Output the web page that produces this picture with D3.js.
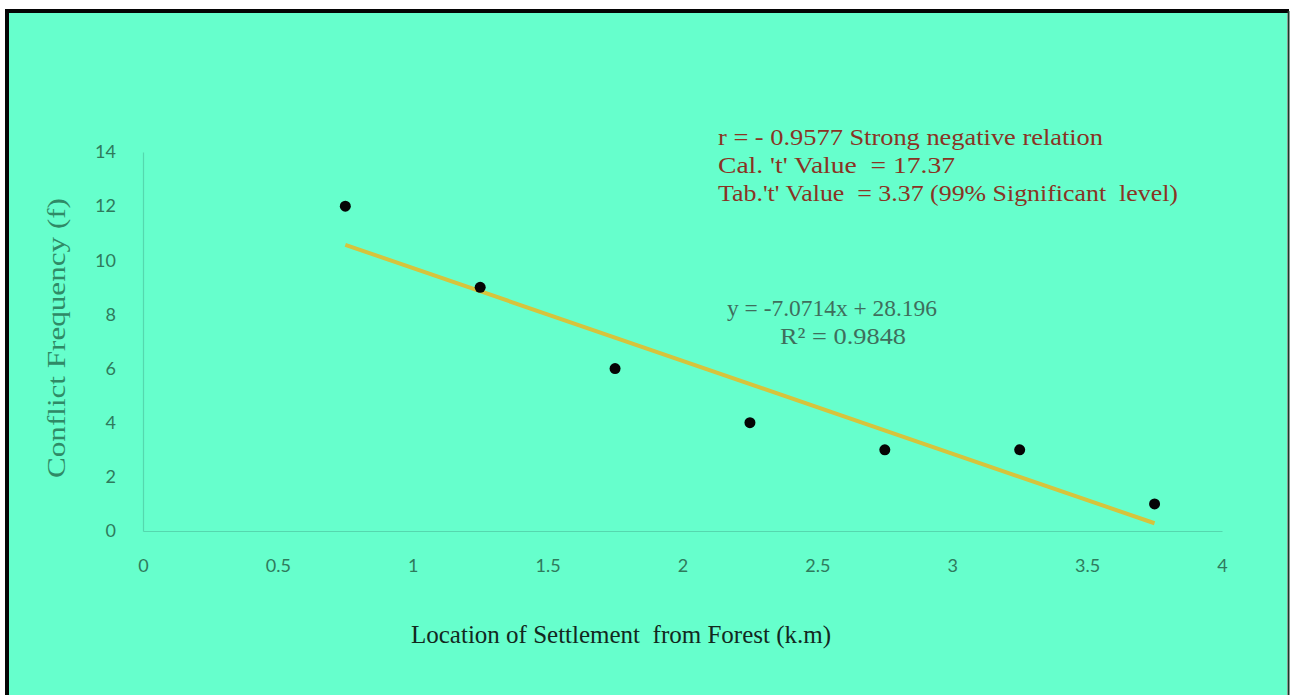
<!DOCTYPE html>
<html lang="en">
<head>
<meta charset="utf-8">
<title>Conflict frequency vs distance</title>
<script src="https://cdn.jsdelivr.net/npm/d3@7"></script>
<style>
  body { margin: 0; background: #fff; }
  .tick text { font-family: Lato, "Open Sans", sans-serif; font-size: 18px; fill: #2f7a5c; }
</style>
</head>
<body>
<div id="chart"></div>
<script>
// data
var distance = [0.75, 1.25, 1.75, 2.25, 2.75, 3.25, 3.75];
var frequency = [12, 9, 6, 4, 3, 3, 1];
var xTicks = [0, 0.5, 1, 1.5, 2, 2.5, 3, 3.5, 4];
var yTicks = [0, 2, 4, 6, 8, 10, 12, 14];
var statLines = ["r = - 0.9577 Strong negative relation", "Cal. 't' Value  = 17.37", "Tab.'t' Value  = 3.37 (99% Significant  level)"];
var statWidths = [385, 237, 460];
var eqLines = ["y = -7.0714x + 28.196", "R² = 0.9848"];

var SERIF = "'Liberation Serif', 'Times New Roman', Times, serif";

var W = 1290, H = 697;
var margin = {top: 152, right: 68, bottom: 166, left: 143},
    width = W - margin.left - margin.right,
    height = H - margin.top - margin.bottom;

var svg = d3.select("#chart").append("svg")
    .attr("width", W)
    .attr("height", H);

// frame
svg.append("rect").attr("x", 0).attr("y", 0).attr("width", W).attr("height", H).attr("fill", "#fff");
svg.append("rect").attr("x", 9).attr("y", 13).attr("width", W - 12).attr("height", H - 15).attr("fill", "#66ffcc");
svg.append("line").attr("x1", 7).attr("x2", 7).attr("y1", 11).attr("y2", H - 2).attr("stroke", "#050505").attr("stroke-width", 4);
svg.append("line").attr("x1", 5).attr("x2", W - 1).attr("y1", 11).attr("y2", 11).attr("stroke", "#050505").attr("stroke-width", 4);
svg.append("line").attr("x1", W - 1.5).attr("x2", W - 1.5).attr("y1", 11).attr("y2", H - 2).attr("stroke", "#1a3a2a").attr("stroke-width", 2);

var g = svg.append("g")
    .attr("transform", "translate(" + margin.left + "," + margin.top + ")");

var x = d3.scaleLinear().domain([0, 4]).range([0, width]);
var y = d3.scaleLinear().domain([0, 14]).range([height, 0]);

var xAxis = d3.axisBottom(x).tickValues(xTicks).tickSize(0).tickPadding(28).tickFormat(d3.format(""));
var yAxis = d3.axisLeft(y).tickValues(yTicks).tickSize(0).tickPadding(27);

var gx = g.append("g").attr("transform", "translate(0," + height + ")").call(xAxis);
var gy = g.append("g").call(yAxis);
gx.select(".domain").attr("stroke", "#55d8ae").attr("stroke-width", 1.2);
gy.select(".domain").attr("stroke", "#55d8ae").attr("stroke-width", 1.2);

// least squares trend line
var mx = d3.mean(distance), my = d3.mean(frequency);
var sxy = d3.sum(distance, function (d, i) { return (d - mx) * (frequency[i] - my); });
var sxx = d3.sum(distance, function (d) { return (d - mx) * (d - mx); });
var slope = sxy / sxx, intercept = my - slope * mx;
var x0 = d3.min(distance), x1 = d3.max(distance);

g.append("line")
    .attr("x1", x(x0)).attr("y1", y(slope * x0 + intercept))
    .attr("x2", x(x1)).attr("y2", y(slope * x1 + intercept))
    .attr("stroke", "#d6c43c")
    .attr("stroke-width", 4);

g.selectAll(".dot")
    .data(distance)
    .enter()
    .append("circle")
    .attr("class", "dot")
    .attr("cx", function (d) { return x(d); })
    .attr("cy", function (d, i) { return y(frequency[i]); })
    .attr("r", 5.5)
    .attr("fill", "#050505");

// stats text
svg.selectAll(".stat")
    .data(statLines)
    .enter()
    .append("text")
    .attr("class", "stat")
    .attr("x", 718)
    .attr("y", function (d, i) { return 145 + i * 28; })
    .attr("textLength", function (d, i) { return statWidths[i]; })
    .attr("lengthAdjust", "spacingAndGlyphs")
    .style("font-family", SERIF)
    .style("font-size", "24px")
    .style("fill", "#8a3324")
    .style("white-space", "pre")
    .text(function (d) { return d; });

// equation
svg.append("text")
    .attr("x", 727).attr("y", 316)
    .attr("textLength", 210).attr("lengthAdjust", "spacingAndGlyphs")
    .style("font-family", SERIF)
    .style("font-size", "23px").style("fill", "#3f6e5c")
    .text(eqLines[0]);
svg.append("text")
    .attr("x", 780).attr("y", 344)
    .attr("textLength", 126).attr("lengthAdjust", "spacingAndGlyphs")
    .style("font-family", SERIF)
    .style("font-size", "23px").style("fill", "#3f6e5c")
    .text(eqLines[1]);

// axis titles
svg.append("text")
    .attr("x", 621).attr("y", 643)
    .attr("text-anchor", "middle")
    .style("font-family", SERIF)
    .style("font-size", "25px").style("fill", "#12281e")
    .style("white-space", "pre")
    .text("Location of Settlement  from Forest (k.m)");

svg.append("text")
    .attr("transform", "translate(65,338) rotate(-90)")
    .attr("text-anchor", "middle")
    .attr("textLength", 280).attr("lengthAdjust", "spacingAndGlyphs")
    .style("font-family", SERIF)
    .style("font-size", "25px").style("fill", "#2f8a66")
    .text("Conflict Frequency (f)");
</script>
</body>
</html>
